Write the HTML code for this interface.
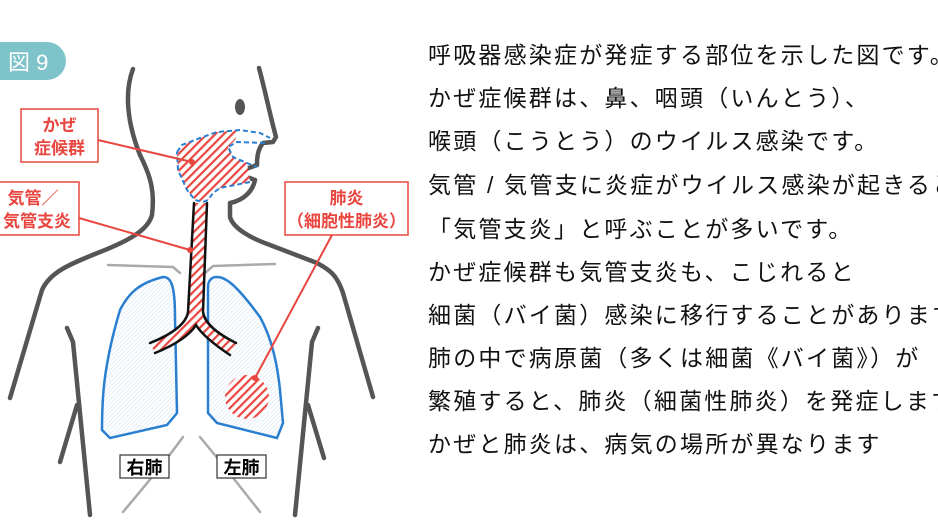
<!DOCTYPE html>
<html><head><meta charset="utf-8"><style>
body{margin:0;background:#fff;width:938px;height:518px;overflow:hidden}
.t{font-family:"Liberation Sans","Noto Sans CJK JP",sans-serif}
</style></head><body>
<svg width="938" height="518" viewBox="0 0 938 518" xmlns="http://www.w3.org/2000/svg">
<defs>
<pattern id="h" width="6" height="6" patternUnits="userSpaceOnUse" patternTransform="rotate(-45)">
<rect width="6" height="6" fill="#fff"/><rect width="6" height="2.2" fill="#e8463f"/></pattern>
<pattern id="hb" width="3" height="3" patternUnits="userSpaceOnUse" patternTransform="rotate(-45)">
<rect width="3" height="0.6" fill="#d2e3f3"/></pattern>
</defs>
<rect x="-20" y="42" width="86" height="38" rx="19" fill="#7ec3c9"/>
<text x="8" y="70" class="t" font-size="22" fill="#fff">図 9</text>
<g fill="none" stroke="#555" stroke-width="4.5" stroke-linecap="round" stroke-linejoin="round">
<path d="M133,69 C125,90 126,120 140,155 C150,175 155,190 152,215 C148,230 130,240 100,252 C70,264 50,272 42,290 L10,398"/>
<path d="M259,68 C265,90 270,115 276,137 L273,142 L263,143 C257,150 257,160 257,165 L243,170 L247,177 L255,180 C253,190 245,200 230,203 L230,217 C233,228 250,238 270,245 L317,263 C330,270 337,275 343,293 L373,397"/>
<path d="M67,328 L73,342 L90,515"/><path d="M77,405 L60,462"/>
<path d="M318,328 L312,342 L295,515"/><path d="M308,405 L324,458"/>
</g>
<ellipse cx="240" cy="107" rx="5" ry="8" fill="#555"/>
<g fill="none" stroke="#aaa" stroke-width="2.5" stroke-linecap="round">
<path d="M108,265 L173,267 L180,273"/><path d="M205,273 L213,266 L275,264"/>
<path d="M183,437 C170,455 150,480 123,512"/><path d="M200,437 C215,455 235,480 260,512"/>
</g>
<path d="M177,152 L182,145 L200,138 L217,132 L240,130 L235,140 L228,147 L233,157 L247,163 L250,182 L235,185 L220,188 L213,193 L208,200 L203,202 L195,200 L187,190 L178,170Z" fill="url(#h)"/>
<path d="M177,152 L182,145 L200,138 L217,132 L240,130 L260,133 L270,138 M265,143 L237,142 L228,147 L233,157 L247,163 L257,167 M250,182 L235,185 L220,188 L213,193 L208,200 L203,202 L195,200 L187,190 L178,170 L177,152" fill="none" stroke="#2a7fd0" stroke-width="2" stroke-dasharray="5,3"/>
<path d="M163,277 C170,277 175,282 175,317 L177,413 L167,425 L110,438 L102,430 C102,400 103,367 120,310 C130,290 143,282 163,277Z" fill="url(#hb)" stroke="#2a7fd0" stroke-width="2.5"/>
<path d="M217,277 C225,277 235,283 260,317 C270,335 277,360 280,390 L283,423 L277,438 L217,423 L208,413 L208,287 C208,280 212,277 217,277Z" fill="url(#hb)" stroke="#2a7fd0" stroke-width="2.5"/>
<path d="M194,203 L188,312 C186,325 170,335 150,343 L155,353 C175,345 190,335 196,325 C202,335 215,345 230,355 L236,343 C220,335 205,325 203,312 L207,203Z" fill="url(#h)"/>
<g fill="none" stroke="#111" stroke-width="2.5" stroke-linecap="round">
<path d="M194,203 L188,312 C186,325 170,335 150,343"/><path d="M155,353 C175,345 190,335 196,325 C202,335 215,345 230,355"/>
<path d="M207,203 L203,312 C205,325 220,335 236,343"/>
</g>
<circle cx="247" cy="397" r="22" fill="url(#h)"/>
<g class="t" font-weight="bold">
<rect x="120" y="455" width="49" height="23" fill="#fff" stroke="#333" stroke-width="1.2"/>
<text x="144.5" y="474" font-size="18" text-anchor="middle">右肺</text>
<rect x="217" y="455" width="49" height="23" fill="#fff" stroke="#333" stroke-width="1.2"/>
<text x="241.5" y="474" font-size="18" text-anchor="middle">左肺</text>
</g>
<g stroke="#e8463f" stroke-width="2" fill="none">
<line x1="98" y1="140" x2="192" y2="162"/><line x1="79" y1="218" x2="190" y2="250"/><line x1="332" y1="235" x2="255" y2="378"/>
</g>
<g fill="#e8463f"><circle cx="192" cy="162" r="3"/><circle cx="190" cy="250" r="3"/><circle cx="255" cy="378" r="3"/></g>
<g class="t" font-weight="bold" fill="#e8463f" font-size="17">
<rect x="21" y="109" width="77" height="53" fill="#fff" stroke="#e8463f" stroke-width="1.5"/>
<text x="59.5" y="131" text-anchor="middle">かぜ</text><text x="59.5" y="154" text-anchor="middle">症候群</text>
<rect x="-5" y="182" width="84" height="53" fill="#fff" stroke="#e8463f" stroke-width="1.5"/>
<text x="33" y="204" text-anchor="middle">気管／</text><text x="37" y="227" text-anchor="middle">気管支炎</text>
<rect x="285" y="182" width="123" height="53" fill="#fff" stroke="#e8463f" stroke-width="1.5"/>
<text x="346.5" y="204" text-anchor="middle">肺炎</text><text x="346.5" y="227" text-anchor="middle">（細胞性肺炎）</text>
</g>
<g class="t" font-size="23" fill="#111" letter-spacing="2.2">
<text x="428" y="63">呼吸器感染症が発症する部位を示した図です。</text>
<text x="428" y="106">かぜ症候群は、鼻、咽頭（いんとう）、</text>
<text x="428" y="149">喉頭（こうとう）のウイルス感染です。</text>
<text x="428" y="193">気管 / 気管支に炎症がウイルス感染が起きると</text>
<text x="428" y="237">「気管支炎」と呼ぶことが多いです。</text>
<text x="428" y="280">かぜ症候群も気管支炎も、こじれると</text>
<text x="428" y="323">細菌（バイ菌）感染に移行することがあります。</text>
<text x="428" y="366">肺の中で病原菌（多くは細菌《バイ菌》）が</text>
<text x="428" y="409">繁殖すると、肺炎（細菌性肺炎）を発症します。</text>
<text x="428" y="452">かぜと肺炎は、病気の場所が異なります</text>
</g>
</svg>
</body></html>
